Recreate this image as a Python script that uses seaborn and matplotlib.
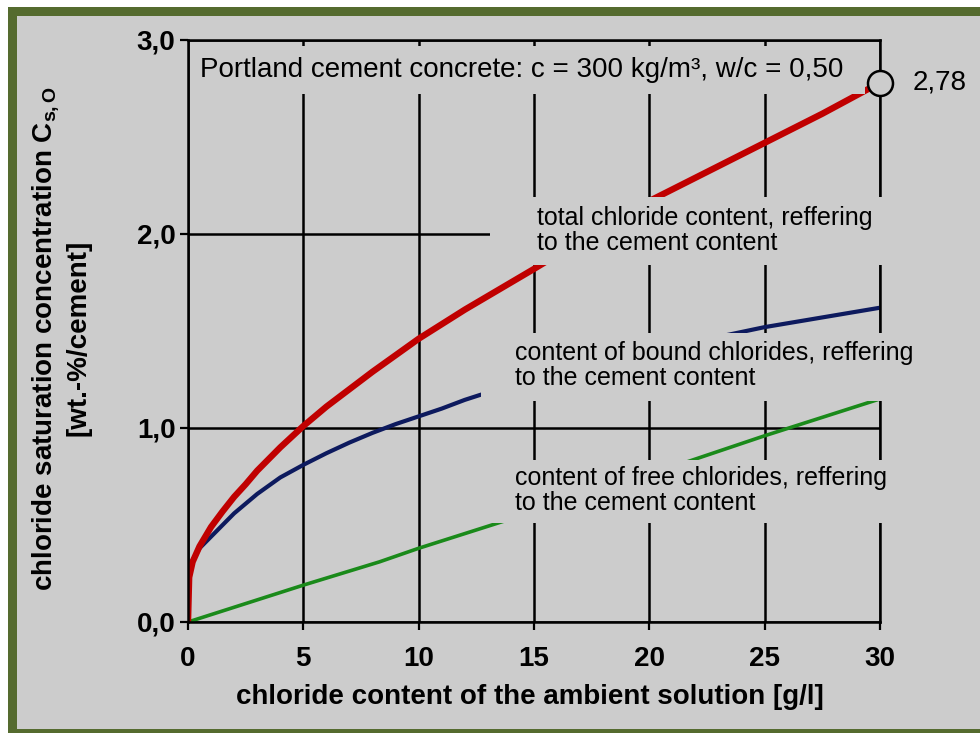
import numpy as np
import pandas as pd
import matplotlib
matplotlib.use("Agg")
import matplotlib.pyplot as plt
import seaborn as sns
from matplotlib.patches import Rectangle

# ---------------- data ----------------
total_x = [0, 0.05, 0.2, 0.5, 1.0, 1.5, 2.0, 2.5, 3.0, 3.5, 4.0, 4.5, 5.0, 6.0, 7.0, 8.0, 9.0, 10.0,
           12.0, 14.0, 15.0, 17.5, 20.0, 22.5, 25.0, 27.5, 30.0]
total_y = [0, 0.23, 0.31, 0.39, 0.49, 0.57, 0.645, 0.71, 0.78, 0.84, 0.90, 0.955, 1.01, 1.11, 1.20, 1.29, 1.375, 1.46,
           1.61, 1.75, 1.82, 2.00, 2.17, 2.32, 2.47, 2.62, 2.78]

bound_x = [0, 0.03, 0.2, 0.5, 1.0, 1.5, 2.0, 2.5, 3.0, 4.0, 5.0, 6.0, 7.0, 8.0, 9.0, 10.0, 11.0, 12.0, 12.65,
           15.0, 20.0, 23.4, 25.0, 27.5, 30.0]
bound_y = [0, 0.25, 0.32, 0.38, 0.44, 0.50, 0.56, 0.61, 0.66, 0.745, 0.81, 0.87, 0.925, 0.975, 1.02, 1.06, 1.10, 1.145, 1.17,
           1.25, 1.39, 1.48, 1.52, 1.57, 1.62]

free_x = [0, 5, 8.3, 10, 13.7, 21.5, 25, 30]
free_y = [0, 0.19, 0.31, 0.38, 0.52, 0.82, 0.96, 1.15]

end_x = [30]
end_y = [2.78]
end_label = "2,78"

x_ticks = [0, 5, 10, 15, 20, 25, 30]
x_tick_labels = ["0", "5", "10", "15", "20", "25", "30"]
y_ticks = [0, 1, 2, 3]
y_tick_labels = ["0,0", "1,0", "2,0", "3,0"]

title_text = "Portland cement concrete: c = 300 kg/m³, w/c = 0,50"
total_label = "total chloride content, reffering\nto the cement content"
bound_label = "content of bound chlorides, reffering\nto the cement content"
free_label = "content of free chlorides, reffering\nto the cement content"
x_label = "chloride content of the ambient solution [g/l]"
y_label = "chloride saturation concentration C$_{\\mathbf{s,O}}$\n[wt.-%/cement]"

# ---------------- style ----------------
sns.set_theme(style="white")
plt.rcParams['font.family'] = ['Liberation Sans', 'DejaVu Sans']
plt.rcParams['mathtext.fontset'] = 'custom'
plt.rcParams['mathtext.rm'] = 'Liberation Sans'
plt.rcParams['mathtext.bf'] = 'Liberation Sans:bold'
plt.rcParams['text.color'] = 'black'
plt.rcParams['axes.labelcolor'] = 'black'
plt.rcParams['xtick.color'] = 'black'
plt.rcParams['ytick.color'] = 'black'

BG = '#cccccc'
BORDER = '#556b2f'
RED = '#c00000'
NAVY = '#0d1a5e'
GREEN = '#1a8a1a'

W, H = 980, 733
fig = plt.figure(figsize=(W / 100, H / 100), dpi=100)
fig.patch.set_facecolor('white')

# frame border
fig.add_artist(Rectangle((8 / W, -0.1), 2, (H - 7) / H + 0.1, transform=fig.transFigure,
                         facecolor=BORDER, edgecolor='none', zorder=-10))
fig.add_artist(Rectangle((17 / W, 4 / H), 2, (H - 16 - 4) / H, transform=fig.transFigure,
                         facecolor=BG, edgecolor='none', zorder=-9))

ax = fig.add_axes([188 / W, (H - 622) / H, 692 / W, 582 / H])
ax.set_facecolor('none')

df_total = pd.DataFrame({'x': total_x, 'y': total_y})
df_bound = pd.DataFrame({'x': bound_x, 'y': bound_y})
df_free = pd.DataFrame({'x': free_x, 'y': free_y})

sns.lineplot(data=df_free, x='x', y='y', ax=ax, color=GREEN, lw=2.6, estimator=None, sort=False, zorder=2)
sns.lineplot(data=df_bound, x='x', y='y', ax=ax, color=NAVY, lw=3.0, estimator=None, sort=False, zorder=2)
sns.lineplot(data=df_total, x='x', y='y', ax=ax, color=RED, lw=4.6, estimator=None, sort=False, zorder=2.1)

ax.plot(end_x, end_y, 'o', ms=18, mfc=BG, mec='black', mew=1.8, zorder=6, clip_on=False)
ax.text(31.43, end_y[0], end_label, fontsize=20, ha='left', va='center', clip_on=False, color='black')

ax.set_xlim(0, 30)
ax.set_ylim(0, 3)
ax.set_xticks(x_ticks)
ax.set_xticklabels(x_tick_labels, fontweight='bold')
ax.set_yticks(y_ticks)
ax.set_yticklabels(y_tick_labels, fontweight='bold')
ax.tick_params(axis='both', direction='out', length=6, width=1.6, color='black',
               labelsize=20, labelcolor='black')
ax.tick_params(axis='x', pad=11, bottom=True)
ax.tick_params(axis='y', pad=3, left=True)

ax.set_axisbelow(True)
ax.grid(True, color='black', linewidth=1.8)
for s in ax.spines.values():
    s.set_visible(True)
    s.set_color('black')
    s.set_linewidth(1.8)

ax.set_xlabel(x_label, fontsize=20, fontweight='bold', color='black')
ax.xaxis.label.set_va('center')
ax.xaxis.set_label_coords((530 - 188) / 692, (622 - 697) / 582)
ax.set_ylabel("")
fig.text(61 / W, 1 - 338 / H, y_label, rotation=90, ha='center', va='center', color='black',
         fontsize=20, fontweight='bold', multialignment='center', linespacing=1.15)

# label boxes (hide grid/curves behind the text)
boxes = [
    (0.1, 2.72, 29.25, 0.25),
    (13.1, 1.84, 17.2, 0.35),
    (12.7, 1.14, 17.6, 0.35),
    (13.1, 0.51, 17.9, 0.325),
]
for (x0, y0, w, h) in boxes:
    ax.add_patch(Rectangle((x0, y0), w, h, facecolor=BG, edgecolor='none', zorder=3, clip_on=False))

ax.text(0.52, 2.845, title_text, fontsize=20, ha='left', va='center', zorder=4, color='black')
ax.text(15.13, 2.02, total_label, fontsize=18, ha='left', va='center', zorder=4, linespacing=1.05, color='black')
ax.text(14.17, 1.32, bound_label, fontsize=18, ha='left', va='center', zorder=4, linespacing=1.05, color='black')
ax.text(14.17, 0.68, free_label, fontsize=18, ha='left', va='center', zorder=4, linespacing=1.05, color='black')

fig.savefig('out.png', dpi=100, facecolor=fig.get_facecolor())
